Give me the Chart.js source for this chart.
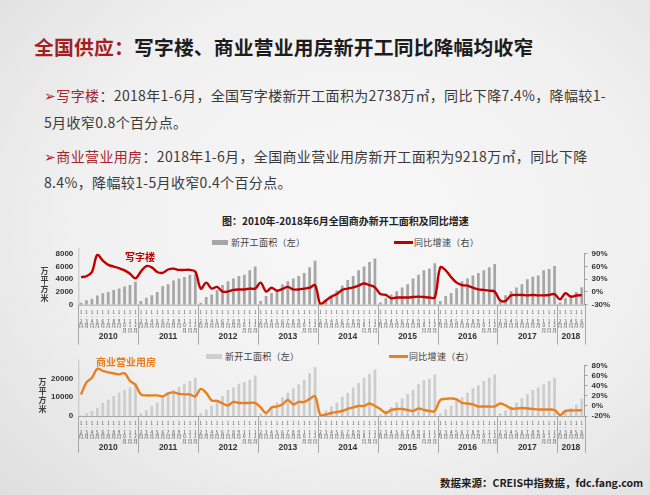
<!DOCTYPE html>
<html><head><meta charset="utf-8">
<script src="https://cdn.jsdelivr.net/npm/chart.js@4.4.0/dist/chart.umd.min.js"></script>
<style>
html,body{margin:0;padding:0;}
#page{position:relative;width:650px;height:495px;overflow:hidden;
 background: radial-gradient(ellipse 80% 85% at 55% 45%, #f8f8f8 0%, #f0f0f0 55%, #dcdcdc 100%);
 font-family:"Noto Sans CJK SC","Noto Sans",sans-serif;}
.t{position:absolute;white-space:nowrap;line-height:1;}
.red{color:#a8262a;}
.b{letter-spacing:0.35px;}
canvas{position:absolute;left:0;}
</style></head><body><div id="page">
<div class="t" style="left:34px;top:37px;font-size:19.8px;font-weight:bold;color:#1c1c1c;letter-spacing:0.2px;"><span style="color:#a41e22">全国供应：</span>写字楼、商业营业用房新开工同比降幅均收窄</div>
<div class="t b" style="left:44px;top:88px;font-size:14px;color:#3a3a3a;"><span class="red">➢写字楼</span>：2018年1-6月，全国写字楼新开工面积为2738万㎡，同比下降7.4%，降幅较1-</div>
<div class="t b" style="left:44px;top:115px;font-size:14px;color:#3a3a3a;">5月收窄0.8个百分点。</div>
<div class="t b" style="left:44px;top:149px;font-size:14px;color:#3a3a3a;"><span class="red">➢商业营业用房</span>：2018年1-6月，全国商业营业用房新开工面积为9218万㎡，同比下降</div>
<div class="t b" style="left:44px;top:175px;font-size:14px;color:#3a3a3a;">8.4%，降幅较1-5月收窄0.4个百分点。</div>
<div class="t" style="left:222px;top:216px;font-size:10px;font-weight:bold;color:#222;">图：2010年-2018年6月全国商办新开工面积及同比增速</div>

<div style="position:absolute;left:212px;top:240px;width:16px;height:5px;background:#a6a6a6;"></div>
<div class="t" style="left:231px;top:238px;font-size:9px;color:#404040;letter-spacing:0.3px;">新开工面积（左）</div>
<div style="position:absolute;left:394px;top:241px;width:19px;height:2.5px;background:#c00000;"></div>
<div class="t" style="left:414px;top:238px;font-size:9px;color:#404040;letter-spacing:0.3px;">同比增速（右）</div>

<div style="position:absolute;left:206px;top:354px;width:16px;height:5px;background:#d0d0d0;"></div>
<div class="t" style="left:225px;top:352px;font-size:9px;color:#404040;letter-spacing:0.3px;">新开工面积（左）</div>
<div style="position:absolute;left:389px;top:355px;width:19px;height:2.5px;background:#e8801f;"></div>
<div class="t" style="left:409px;top:352px;font-size:9px;color:#404040;letter-spacing:0.3px;">同比增速（右）</div>

<canvas id="c1" width="650" height="106" style="top:244px;width:650px;height:106px;"></canvas>
<canvas id="c2" width="650" height="102" style="top:356px;width:650px;height:102px;"></canvas>

<div class="t" style="left:125px;top:252px;font-size:10px;font-weight:bold;color:#c00000;">写字楼</div>
<div class="t" style="left:96px;top:357px;font-size:10px;font-weight:bold;color:#e8801f;">商业营业用房</div>
<div class="t" style="left:40px;top:266px;font-size:8px;font-weight:bold;color:#404040;line-height:9px;width:9px;white-space:normal;text-align:center;">万平方米</div>
<div class="t" style="left:38px;top:377px;font-size:8px;font-weight:bold;color:#404040;line-height:9px;width:9px;white-space:normal;text-align:center;">万平方米</div>
<div class="t" style="left:440px;top:478px;font-size:10.5px;font-weight:bold;color:#1c1c1c;">数据来源：CREIS中指数据，fdc.fang.com</div>
</div>
<script>
const years = ['2010','2011','2012','2013','2014','2015','2016','2017','2018'];
const periods = ['1-2月','1-3月','1-4月','1-5月','1-6月','1-7月','1-8月','1-9月','1-10月','1-11月','1-12月'];
const periodsPerYear = [11,11,11,11,11,11,11,11,5];

const officeArea = [
 300,700,950,1450,1800,2000,2300,2550,2850,3100,3600,
 600,1100,1500,2000,2900,3200,3800,4100,4350,4700,4800,
 300,1200,1600,2300,3100,3700,4100,4500,4700,5400,6000,
 600,1350,1850,2350,3200,3700,4100,4500,5000,5900,6900,
 400,800,1200,2250,3000,3900,4500,5400,6000,6700,7250,
 350,1000,1600,2100,2700,3200,4100,4700,5400,5700,6500,
 600,1350,1850,2600,3700,4100,4600,5000,5400,5900,6400,
 500,1500,2100,2700,3200,4000,4400,4600,5400,5600,6100,
 350,1000,1500,2000,2738];
const officeYoY = [
 35,37,47,88,74,64,60,56,51,43,32,
 48,61,58,47,45,53,55,52,52,52,48,
 8,22,8,12,1,1,5,6,6,8,8,
 22,1,10,3,7,12,6,6,8,10,16,
 -30,-20,-11,-5,5,8,11,15,20,16,11,
 -5,-7,-15,-13,-13,-13,-12,-11,-12,-13,-13,
 58,51,35,22,16,15,10,6,5,3,1,
 -20,-21,-8,-7,-7,-8,-7,-8,-8,-7,-5,
 -17,-3,-11,-8.2,-7.4];
const commArea = [
 300,1400,2600,4300,6900,8600,10700,12400,13800,15200,17600,
 1400,3100,5200,7200,10000,11700,13800,15500,17200,18600,20300,
 1400,3400,5500,8300,10700,13800,15200,17200,18100,19300,21600,
 1400,2600,5200,7200,10000,12400,14700,16900,19300,22800,25900,
 1200,2900,5200,7200,10300,12400,15200,17600,20300,22400,24700,
 900,2900,4800,7200,9500,11700,13800,16900,19000,19800,22100,
 1400,3400,5500,8300,10000,12400,14700,16400,18600,20300,22100,
 1400,2900,5200,7200,9500,11700,13800,15200,16900,18600,20300,
 900,2600,4300,6000,9218];
const commYoY = [
 23,47,56,74,70,67,65,63,65,50,42,
 23,21,21,21,19,25,27,24,23,23,19,
 34,26,11,10,5,1,8,6,6,6,6,
 -3,-14,-3,-1,3,12,3,8,8,14,19,
 -19,-17,-14,-12,-10,-6,-3,0,0,5,0,
 -6,-14,-8,-6,-6,-8,-10,-5,-8,-10,-10,
 12,14,15,13,6,5,3,-1,-1,-1,-1,
 5,1,-5,-5,-4,-5,-6,-7,-7,-7,-8,
 -18,-10,-9,-8.8,-8.4];

const officeLeftTicks = [0,2000,4000,6000,8000];
const officeRightTicks = [-30,0,30,60,90];
const commLeftTicks = [0,10000,20000];
const commLeftMax = 26700;
const commRightTicks = [-20,0,20,40,60,80];

const labels = years.flatMap((y,k)=>periods.slice(0,periodsPerYear[k]));

const yearPlugin = {
  id:'yearGroups',
  afterDraw(chart, args, opts){
    const {ctx, chartArea:a, scales:{x}} = chart;
    ctx.save();
    ctx.strokeStyle = '#c4c4c4'; ctx.lineWidth = 1;
    ctx.beginPath(); ctx.moveTo(a.left+0.5, a.top-6); ctx.lineTo(a.left+0.5, a.bottom); ctx.stroke();
    ctx.strokeStyle = '#a8a8a8';
    ctx.beginPath(); ctx.moveTo(a.left, a.bottom+0.5); ctx.lineTo(a.right, a.bottom+0.5); ctx.stroke();
    const n = chart.data.labels.length;
    const bounds=[a.left]; let idx=0;
    periodsPerYear.forEach(c=>{ idx+=c;
      bounds.push(idx<n ? (x.getPixelForValue(idx-1)+x.getPixelForValue(idx))/2 : a.right); });
    bounds.forEach(b=>{ ctx.beginPath(); ctx.moveTo(Math.round(b)+0.5, a.bottom); ctx.lineTo(Math.round(b)+0.5, a.bottom+opts.divLen); ctx.stroke(); });
    ctx.fillStyle='#333'; ctx.font='bold 8.5px "Liberation Sans", Arial, sans-serif';
    ctx.textAlign='center'; ctx.textBaseline='middle';
    years.forEach((y,k)=>ctx.fillText(y,(bounds[k]+bounds[k+1])/2, a.bottom+opts.yearY));
    ctx.restore();
  }
};

function makeChart(id, area, yoy, barColor, lineColor, leftTicks, leftMax, rightTicks, padTop, xHeight, divLen, yearY){
  return new Chart(document.getElementById(id), {
    data:{ labels: labels, datasets:[
      {type:'line', data: yoy, yAxisID:'y1', borderColor: lineColor, borderWidth:2.4, pointRadius:0, tension:0.35, order:0, fill:false},
      {type:'bar', data: area, yAxisID:'y', backgroundColor: barColor, categoryPercentage:1, barPercentage:0.5, order:1}
    ]},
    options:{
      responsive:false, animation:false, devicePixelRatio:1,
      layout:{padding:{top:padTop,left:0,right:0,bottom:0}},
      plugins:{legend:{display:false}, tooltip:{enabled:false}, yearGroups:{divLen:divLen, yearY:yearY}},
      scales:{
        x:{ type:'category', offset:true,
          grid:{display:false, drawTicks:false}, border:{display:false},
          ticks:{ autoSkip:false, maxRotation:0, minRotation:0, padding:5, color:'#444',
            font:{size:4.5, lineHeight:1, family:'"Noto Sans CJK SC"'},
            callback:(v,i)=>[...labels[i]] },
          afterFit:(s)=>{ s.width = s.width; s.height = xHeight; } },
        y:{ position:'left', min:leftTicks[0], max:leftMax,
          grid:{display:false, drawTicks:false}, border:{display:false},
          afterBuildTicks:(s)=>{ s.ticks = leftTicks.map(v=>({value:v})); },
          ticks:{ autoSkip:false, padding:5, color:'#333', font:{size:8, weight:'bold', family:'"Liberation Sans", Arial'}, callback:(v)=>String(v) },
          afterFit:(s)=>{ s.width = 78.3; } },
        y1:{ position:'right', min:rightTicks[0], max:rightTicks[rightTicks.length-1],
          grid:{drawOnChartArea:false, drawTicks:true, tickLength:3, color:'#a0a0a0'},
          border:{display:true, color:'#a0a0a0'},
          afterBuildTicks:(s)=>{ s.ticks = rightTicks.map(v=>({value:v})); },
          ticks:{ autoSkip:false, padding:4, color:'#333', font:{size:8, weight:'bold', family:'"Liberation Sans", Arial'}, callback:(v)=>v+'%' },
          afterFit:(s)=>{ s.width = 650-584.5; } }
      }
    },
    plugins:[yearPlugin]
  });
}

makeChart('c1', officeArea, officeYoY, '#a6a6a6', '#c00000', officeLeftTicks, officeLeftTicks[officeLeftTicks.length-1], officeRightTicks, 7.7, 45.3, 40, 31.5);
makeChart('c2', commArea, commYoY, '#cdcdcd', '#e8801f', commLeftTicks, commLeftMax, commRightTicks, 8.3, 42, 37, 32);
</script>
</body></html>
